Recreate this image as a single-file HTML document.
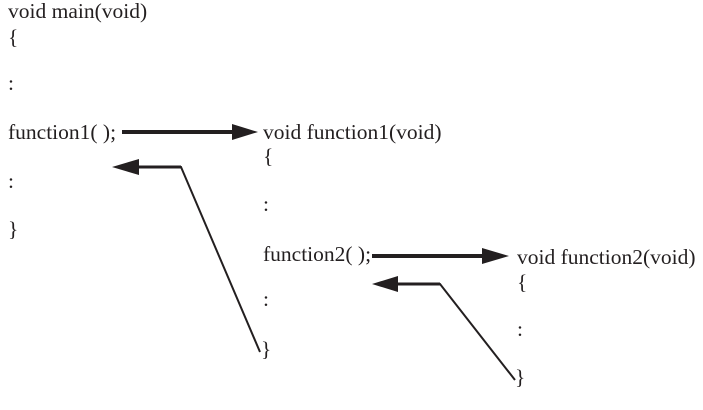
<!DOCTYPE html>
<html><head><meta charset="utf-8"><style>
html,body{margin:0;padding:0;background:#fff;}
svg{display:block;}
text{font-family:"Liberation Serif",serif;font-size:21.5px;fill:#231f20;}
</style></head><body>
<svg width="703" height="410" viewBox="0 0 703 410">
<g>
<text x="8" y="18">void main(void)</text>
<text x="8" y="44">{</text>
<text x="8" y="90">:</text>
<text x="8" y="139">function1( );</text>
<text x="8" y="188">:</text>
<text x="8" y="236">}</text>
</g>
<g>
<text x="263" y="139">void function1(void)</text>
<text x="263" y="163">{</text>
<text x="263" y="211">:</text>
<text x="263" y="261">function2( );</text>
<text x="263" y="306">:</text>
<text x="261" y="356">}</text>
</g>
<g>
<text x="517" y="264">void function2(void)</text>
<text x="517" y="289">{</text>
<text x="517" y="336">:</text>
<text x="515" y="384">}</text>
</g>
<g>
<line x1="122" y1="132" x2="234" y2="132" stroke="#231f20" stroke-width="4"/>
<path d="M232,124 L258,132 L232,140 z" fill="#231f20"/>
</g>
<g>
<polyline points="260,352 181,167 138,167" fill="none" stroke="#231f20" stroke-width="2"/>
<line x1="136" y1="167" x2="181" y2="167" stroke="#231f20" stroke-width="3"/>
<path d="M139,159 L112,167 L139,175 z" fill="#231f20"/>
</g>
<g>
<line x1="372" y1="256" x2="484" y2="256" stroke="#231f20" stroke-width="4"/>
<path d="M482,248 L509,256 L482,264 z" fill="#231f20"/>
</g>
<g>
<polyline points="515,380 440,284 396,284" fill="none" stroke="#231f20" stroke-width="2"/>
<line x1="394" y1="284" x2="440" y2="284" stroke="#231f20" stroke-width="3"/>
<path d="M398,276 L372,284 L398,292 z" fill="#231f20"/>
</g>
</svg>
</body></html>
